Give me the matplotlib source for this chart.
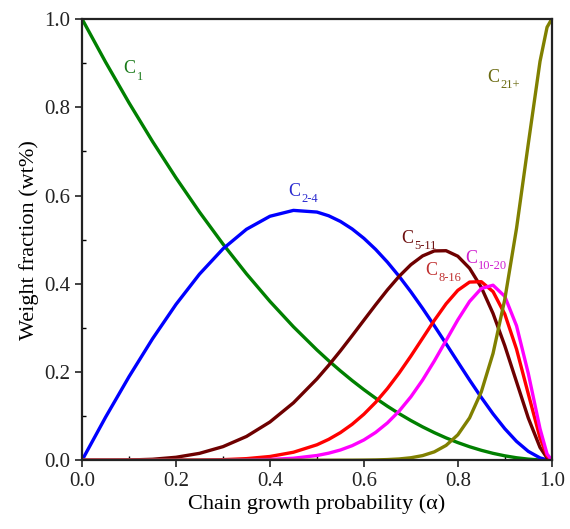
import matplotlib
matplotlib.use("Agg")
import matplotlib.pyplot as plt
from matplotlib.ticker import MultipleLocator, FormatStrFormatter

alpha = [0, 0.05, 0.1, 0.15, 0.2, 0.25, 0.3, 0.35, 0.4, 0.45, 0.5, 0.525, 0.55, 0.575,
         0.6, 0.625, 0.65, 0.675, 0.7, 0.725, 0.75, 0.775, 0.8, 0.825, 0.85, 0.875,
         0.9, 0.925, 0.95, 0.975, 0.99, 1.0]

c1 = [1.0, 0.9025, 0.81, 0.7225, 0.64, 0.5625, 0.49, 0.4225, 0.36, 0.3025, 0.25, 0.2256,
      0.2025, 0.1806, 0.16, 0.1406, 0.1225, 0.1056, 0.09, 0.0756, 0.0625, 0.0506, 0.04,
      0.0306, 0.0225, 0.0156, 0.01, 0.0056, 0.0025, 0.0006, 0.0001, 0.0]

c2_4 = [0.0, 0.0975, 0.1895, 0.2753, 0.3533, 0.4219, 0.4792, 0.5235, 0.5530, 0.5663,
        0.5625, 0.5541, 0.5413, 0.5242, 0.5030, 0.4779, 0.4491, 0.4169, 0.3818, 0.3442,
        0.3047, 0.2640, 0.2227, 0.1818, 0.1423, 0.1051, 0.0715, 0.0427, 0.0201, 0.0053,
        0.0009, 0.0]

c5_11 = [0.0, 0.0, 0.0005, 0.0022, 0.0067, 0.0156, 0.0308, 0.0539, 0.0867, 0.1301,
         0.1843, 0.2151, 0.2479, 0.2823, 0.3174, 0.3523, 0.3860, 0.4168, 0.4432, 0.4631,
         0.4744, 0.4749, 0.4624, 0.4351, 0.3918, 0.3326, 0.2595, 0.1776, 0.0958, 0.0290,
         0.0052, 0.0]

c8_16 = [0.0, 0.0, 0.0, 0.0, 0.0001, 0.0004, 0.0013, 0.0036, 0.0085, 0.0181, 0.0350,
         0.0473, 0.0626, 0.0815, 0.1043, 0.1312, 0.1624, 0.1976, 0.2360, 0.2765, 0.3170,
         0.3545, 0.3851, 0.4038, 0.4047, 0.3821, 0.3313, 0.2517, 0.1505, 0.0505, 0.0096,
         0.0]

c10_20 = [0.0, 0.0, 0.0, 0.0, 0.0, 0.0, 0.0001, 0.0005, 0.0017, 0.0045, 0.0107, 0.0160,
          0.0232, 0.0330, 0.0460, 0.0630, 0.0845, 0.1113, 0.1437, 0.1818, 0.2250, 0.2715,
          0.3182, 0.3599, 0.3893, 0.3967, 0.3714, 0.3047, 0.1969, 0.0714, 0.0142, 0.0]

c21p = [0.0, 0.0, 0.0, 0.0, 0.0, 0.0, 0.0, 0.0, 0.0, 0.0, 0.0, 0.0, 0.0001, 0.0001,
        0.0003, 0.0007, 0.0015, 0.0029, 0.0056, 0.0105, 0.0190, 0.0336, 0.0576, 0.0960,
        0.1550, 0.2422, 0.3647, 0.5257, 0.7170, 0.9040, 0.9815, 1.0]

names = ["1", "2-4", "5-11", "8-16", "10-20", "21+"]
line_colors = ["#008000", "#0000ff", "#6e0000", "#ff0000", "#ff00ff", "#808000"]
label_colors = ["#1a7a1a", "#2a2ad0", "#6e1010", "#c03030", "#d020d0", "#6a6a10"]
label_pos = [(0.088, 0.887), (0.438, 0.61), (0.68, 0.503), (0.73, 0.43),
             (0.815, 0.458), (0.862, 0.868)]
data = [c1, c2_4, c5_11, c8_16, c10_20, c21p]

plt.rcParams["font.family"] = ["Liberation Serif", "DejaVu Serif"]

fig = plt.figure(figsize=(5.7, 5.29), dpi=100)
ax = fig.add_axes([0.144, 0.130, 0.824, 0.834])

for vals, lc_line in zip(data, line_colors):
    ax.plot(alpha, vals, color=lc_line, lw=2.4, solid_capstyle="round")

for name, lc, (x, y) in zip(names, label_colors, label_pos):
    t = ax.text(x, y, "C", color=lc, fontsize=13, ha="left", va="center")
    fig.canvas.draw()
    bb = t.get_window_extent()
    x2 = ax.transData.inverted().transform((bb.x1, bb.y0))[0]
    ax.text(x2, y - 0.018, name, color=lc, fontsize=9, ha="left", va="center")

ax.set_xlim(0, 1)
ax.set_ylim(0, 1)
ax.xaxis.set_major_locator(MultipleLocator(0.2))
ax.yaxis.set_major_locator(MultipleLocator(0.2))
ax.xaxis.set_minor_locator(MultipleLocator(0.1))
ax.yaxis.set_minor_locator(MultipleLocator(0.1))
ax.xaxis.set_major_formatter(FormatStrFormatter("%.1f"))
ax.yaxis.set_major_formatter(FormatStrFormatter("%.1f"))
ax.tick_params(which="major", direction="out", length=5, width=1.2, labelsize=15, colors="#222222")
ax.tick_params(which="minor", direction="in", length=3, width=1.0)
for s in ax.spines.values():
    s.set_linewidth(1.6)
    s.set_color("#222222")

ax.set_xlabel("Chain growth probability (α)", fontsize=16, labelpad=2)
ax.set_ylabel("Weight fraction (wt%)", fontsize=16, labelpad=4)

fig.savefig("out.png", dpi=100)
